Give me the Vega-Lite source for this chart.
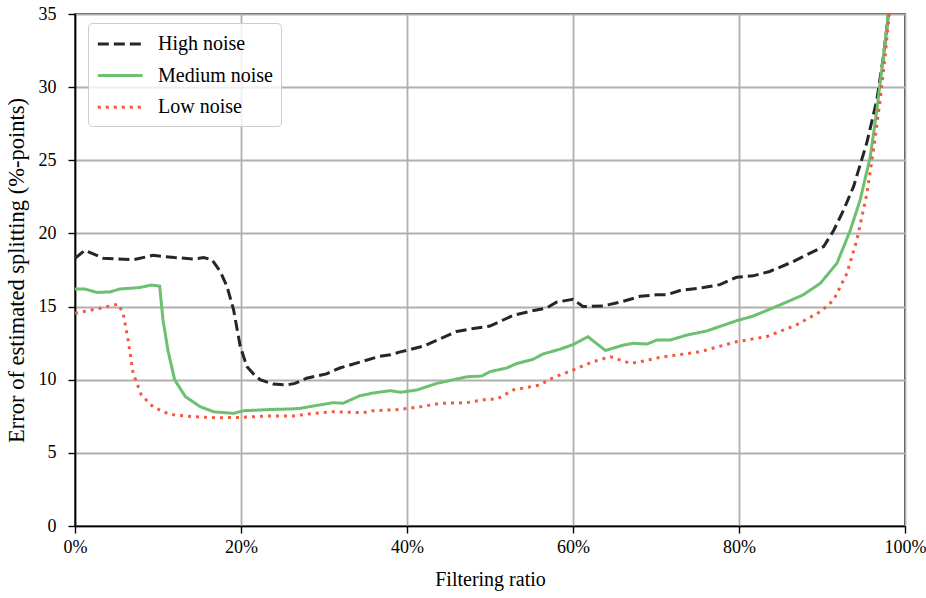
{
  "$schema": "https://vega.github.io/schema/vega-lite/v6.json",
  "autosize": {"type": "none"},
  "width": 830,
  "height": 512,
  "padding": {"left": 75, "top": 14, "right": 21, "bottom": 72},
  "background": "white",
  "config": {
    "font": "Liberation Serif",
    "style": {
      "guide-label": {"font": "Liberation Serif", "fill": "black"},
      "guide-title": {"font": "Liberation Serif", "fill": "black"}
    },
    "view": {"stroke": "black", "strokeWidth": 1.6},
    "axis": {
      "labelFont": "Liberation Serif",
      "titleFont": "Liberation Serif",
      "labelFontSize": 18,
      "titleFontSize": 20,
      "titleFontWeight": "normal",
      "labelColor": "black",
      "titleColor": "black",
      "domainColor": "black",
      "domainWidth": 1.6,
      "tickColor": "black",
      "tickWidth": 1.4,
      "tickSize": 7,
      "gridColor": "#b0b0b0",
      "gridWidth": 1.8,
      "gridOpacity": 1
    },
    "legend": {
      "labelFont": "Liberation Serif",
      "labelFontSize": 20,
      "labelColor": "black"
    }
  },
  "data": {
    "values": [
      {"ratio": 0.0, "error": 18.3, "noise": "High noise"},
      {"ratio": 0.012, "error": 18.85, "noise": "High noise"},
      {"ratio": 0.034, "error": 18.3, "noise": "High noise"},
      {"ratio": 0.05, "error": 18.25, "noise": "High noise"},
      {"ratio": 0.07, "error": 18.2, "noise": "High noise"},
      {"ratio": 0.094, "error": 18.5, "noise": "High noise"},
      {"ratio": 0.12, "error": 18.35, "noise": "High noise"},
      {"ratio": 0.143, "error": 18.25, "noise": "High noise"},
      {"ratio": 0.155, "error": 18.35, "noise": "High noise"},
      {"ratio": 0.165, "error": 18.2, "noise": "High noise"},
      {"ratio": 0.175, "error": 17.4, "noise": "High noise"},
      {"ratio": 0.183, "error": 16.4, "noise": "High noise"},
      {"ratio": 0.191, "error": 14.8, "noise": "High noise"},
      {"ratio": 0.199, "error": 12.3, "noise": "High noise"},
      {"ratio": 0.207, "error": 10.9, "noise": "High noise"},
      {"ratio": 0.215, "error": 10.4, "noise": "High noise"},
      {"ratio": 0.223, "error": 10.0, "noise": "High noise"},
      {"ratio": 0.239, "error": 9.7, "noise": "High noise"},
      {"ratio": 0.255, "error": 9.64, "noise": "High noise"},
      {"ratio": 0.265, "error": 9.75, "noise": "High noise"},
      {"ratio": 0.279, "error": 10.1, "noise": "High noise"},
      {"ratio": 0.303, "error": 10.4, "noise": "High noise"},
      {"ratio": 0.319, "error": 10.8, "noise": "High noise"},
      {"ratio": 0.343, "error": 11.2, "noise": "High noise"},
      {"ratio": 0.367, "error": 11.6, "noise": "High noise"},
      {"ratio": 0.38, "error": 11.7, "noise": "High noise"},
      {"ratio": 0.392, "error": 11.9, "noise": "High noise"},
      {"ratio": 0.42, "error": 12.3, "noise": "High noise"},
      {"ratio": 0.44, "error": 12.8, "noise": "High noise"},
      {"ratio": 0.46, "error": 13.3, "noise": "High noise"},
      {"ratio": 0.48, "error": 13.5, "noise": "High noise"},
      {"ratio": 0.5, "error": 13.67, "noise": "High noise"},
      {"ratio": 0.528, "error": 14.4, "noise": "High noise"},
      {"ratio": 0.55, "error": 14.7, "noise": "High noise"},
      {"ratio": 0.568, "error": 14.9, "noise": "High noise"},
      {"ratio": 0.58, "error": 15.3, "noise": "High noise"},
      {"ratio": 0.6, "error": 15.5, "noise": "High noise"},
      {"ratio": 0.612, "error": 15.0, "noise": "High noise"},
      {"ratio": 0.636, "error": 15.04, "noise": "High noise"},
      {"ratio": 0.66, "error": 15.35, "noise": "High noise"},
      {"ratio": 0.681, "error": 15.7, "noise": "High noise"},
      {"ratio": 0.7, "error": 15.8, "noise": "High noise"},
      {"ratio": 0.713, "error": 15.8, "noise": "High noise"},
      {"ratio": 0.729, "error": 16.1, "noise": "High noise"},
      {"ratio": 0.757, "error": 16.3, "noise": "High noise"},
      {"ratio": 0.777, "error": 16.5, "noise": "High noise"},
      {"ratio": 0.797, "error": 17.0, "noise": "High noise"},
      {"ratio": 0.817, "error": 17.1, "noise": "High noise"},
      {"ratio": 0.837, "error": 17.4, "noise": "High noise"},
      {"ratio": 0.865, "error": 18.07, "noise": "High noise"},
      {"ratio": 0.88, "error": 18.5, "noise": "High noise"},
      {"ratio": 0.902, "error": 19.1, "noise": "High noise"},
      {"ratio": 0.914, "error": 20.2, "noise": "High noise"},
      {"ratio": 0.926, "error": 21.6, "noise": "High noise"},
      {"ratio": 0.938, "error": 23.2, "noise": "High noise"},
      {"ratio": 0.954, "error": 26.2, "noise": "High noise"},
      {"ratio": 0.966, "error": 29.1, "noise": "High noise"},
      {"ratio": 0.974, "error": 32.1, "noise": "High noise"},
      {"ratio": 0.98, "error": 35.0, "noise": "High noise"},
      {"ratio": 0.99, "error": 40.0, "noise": "High noise"},

      {"ratio": 0.0, "error": 16.2, "noise": "Medium noise"},
      {"ratio": 0.012, "error": 16.2, "noise": "Medium noise"},
      {"ratio": 0.026, "error": 15.97, "noise": "Medium noise"},
      {"ratio": 0.042, "error": 16.0, "noise": "Medium noise"},
      {"ratio": 0.054, "error": 16.2, "noise": "Medium noise"},
      {"ratio": 0.078, "error": 16.3, "noise": "Medium noise"},
      {"ratio": 0.092, "error": 16.47, "noise": "Medium noise"},
      {"ratio": 0.102, "error": 16.4, "noise": "Medium noise"},
      {"ratio": 0.106, "error": 14.1, "noise": "Medium noise"},
      {"ratio": 0.112, "error": 12.0, "noise": "Medium noise"},
      {"ratio": 0.12, "error": 10.0, "noise": "Medium noise"},
      {"ratio": 0.133, "error": 8.84, "noise": "Medium noise"},
      {"ratio": 0.151, "error": 8.15, "noise": "Medium noise"},
      {"ratio": 0.167, "error": 7.81, "noise": "Medium noise"},
      {"ratio": 0.191, "error": 7.7, "noise": "Medium noise"},
      {"ratio": 0.203, "error": 7.88, "noise": "Medium noise"},
      {"ratio": 0.239, "error": 7.97, "noise": "Medium noise"},
      {"ratio": 0.26, "error": 8.0, "noise": "Medium noise"},
      {"ratio": 0.271, "error": 8.04, "noise": "Medium noise"},
      {"ratio": 0.287, "error": 8.2, "noise": "Medium noise"},
      {"ratio": 0.311, "error": 8.43, "noise": "Medium noise"},
      {"ratio": 0.323, "error": 8.39, "noise": "Medium noise"},
      {"ratio": 0.343, "error": 8.9, "noise": "Medium noise"},
      {"ratio": 0.36, "error": 9.1, "noise": "Medium noise"},
      {"ratio": 0.38, "error": 9.25, "noise": "Medium noise"},
      {"ratio": 0.392, "error": 9.14, "noise": "Medium noise"},
      {"ratio": 0.412, "error": 9.3, "noise": "Medium noise"},
      {"ratio": 0.436, "error": 9.75, "noise": "Medium noise"},
      {"ratio": 0.472, "error": 10.2, "noise": "Medium noise"},
      {"ratio": 0.49, "error": 10.25, "noise": "Medium noise"},
      {"ratio": 0.5, "error": 10.55, "noise": "Medium noise"},
      {"ratio": 0.52, "error": 10.8, "noise": "Medium noise"},
      {"ratio": 0.532, "error": 11.1, "noise": "Medium noise"},
      {"ratio": 0.552, "error": 11.4, "noise": "Medium noise"},
      {"ratio": 0.564, "error": 11.76, "noise": "Medium noise"},
      {"ratio": 0.584, "error": 12.08, "noise": "Medium noise"},
      {"ratio": 0.6, "error": 12.4, "noise": "Medium noise"},
      {"ratio": 0.618, "error": 12.94, "noise": "Medium noise"},
      {"ratio": 0.639, "error": 12.0, "noise": "Medium noise"},
      {"ratio": 0.661, "error": 12.37, "noise": "Medium noise"},
      {"ratio": 0.673, "error": 12.49, "noise": "Medium noise"},
      {"ratio": 0.689, "error": 12.44, "noise": "Medium noise"},
      {"ratio": 0.701, "error": 12.71, "noise": "Medium noise"},
      {"ratio": 0.717, "error": 12.71, "noise": "Medium noise"},
      {"ratio": 0.737, "error": 13.05, "noise": "Medium noise"},
      {"ratio": 0.761, "error": 13.33, "noise": "Medium noise"},
      {"ratio": 0.797, "error": 14.03, "noise": "Medium noise"},
      {"ratio": 0.817, "error": 14.35, "noise": "Medium noise"},
      {"ratio": 0.849, "error": 15.1, "noise": "Medium noise"},
      {"ratio": 0.877, "error": 15.79, "noise": "Medium noise"},
      {"ratio": 0.898, "error": 16.59, "noise": "Medium noise"},
      {"ratio": 0.918, "error": 17.96, "noise": "Medium noise"},
      {"ratio": 0.934, "error": 20.2, "noise": "Medium noise"},
      {"ratio": 0.946, "error": 22.3, "noise": "Medium noise"},
      {"ratio": 0.958, "error": 25.2, "noise": "Medium noise"},
      {"ratio": 0.966, "error": 28.4, "noise": "Medium noise"},
      {"ratio": 0.974, "error": 32.1, "noise": "Medium noise"},
      {"ratio": 0.98, "error": 35.0, "noise": "Medium noise"},
      {"ratio": 0.99, "error": 40.0, "noise": "Medium noise"},

      {"ratio": 0.0, "error": 14.54, "noise": "Low noise"},
      {"ratio": 0.03, "error": 14.88, "noise": "Low noise"},
      {"ratio": 0.052, "error": 15.17, "noise": "Low noise"},
      {"ratio": 0.058, "error": 14.54, "noise": "Low noise"},
      {"ratio": 0.064, "error": 12.7, "noise": "Low noise"},
      {"ratio": 0.07, "error": 10.44, "noise": "Low noise"},
      {"ratio": 0.08, "error": 8.95, "noise": "Low noise"},
      {"ratio": 0.094, "error": 8.15, "noise": "Low noise"},
      {"ratio": 0.114, "error": 7.63, "noise": "Low noise"},
      {"ratio": 0.143, "error": 7.47, "noise": "Low noise"},
      {"ratio": 0.171, "error": 7.4, "noise": "Low noise"},
      {"ratio": 0.203, "error": 7.43, "noise": "Low noise"},
      {"ratio": 0.231, "error": 7.52, "noise": "Low noise"},
      {"ratio": 0.263, "error": 7.52, "noise": "Low noise"},
      {"ratio": 0.287, "error": 7.7, "noise": "Low noise"},
      {"ratio": 0.311, "error": 7.81, "noise": "Low noise"},
      {"ratio": 0.335, "error": 7.77, "noise": "Low noise"},
      {"ratio": 0.347, "error": 7.74, "noise": "Low noise"},
      {"ratio": 0.359, "error": 7.88, "noise": "Low noise"},
      {"ratio": 0.392, "error": 7.97, "noise": "Low noise"},
      {"ratio": 0.416, "error": 8.15, "noise": "Low noise"},
      {"ratio": 0.44, "error": 8.38, "noise": "Low noise"},
      {"ratio": 0.472, "error": 8.43, "noise": "Low noise"},
      {"ratio": 0.496, "error": 8.66, "noise": "Low noise"},
      {"ratio": 0.508, "error": 8.66, "noise": "Low noise"},
      {"ratio": 0.528, "error": 9.3, "noise": "Low noise"},
      {"ratio": 0.56, "error": 9.64, "noise": "Low noise"},
      {"ratio": 0.576, "error": 10.14, "noise": "Low noise"},
      {"ratio": 0.6, "error": 10.66, "noise": "Low noise"},
      {"ratio": 0.624, "error": 11.23, "noise": "Low noise"},
      {"ratio": 0.645, "error": 11.57, "noise": "Low noise"},
      {"ratio": 0.669, "error": 11.12, "noise": "Low noise"},
      {"ratio": 0.681, "error": 11.23, "noise": "Low noise"},
      {"ratio": 0.705, "error": 11.53, "noise": "Low noise"},
      {"ratio": 0.753, "error": 11.91, "noise": "Low noise"},
      {"ratio": 0.797, "error": 12.6, "noise": "Low noise"},
      {"ratio": 0.833, "error": 12.94, "noise": "Low noise"},
      {"ratio": 0.869, "error": 13.74, "noise": "Low noise"},
      {"ratio": 0.898, "error": 14.65, "noise": "Low noise"},
      {"ratio": 0.914, "error": 15.45, "noise": "Low noise"},
      {"ratio": 0.93, "error": 17.27, "noise": "Low noise"},
      {"ratio": 0.942, "error": 19.55, "noise": "Low noise"},
      {"ratio": 0.954, "error": 22.7, "noise": "Low noise"},
      {"ratio": 0.962, "error": 25.7, "noise": "Low noise"},
      {"ratio": 0.97, "error": 29.1, "noise": "Low noise"},
      {"ratio": 0.976, "error": 32.1, "noise": "Low noise"},
      {"ratio": 0.981, "error": 35.0, "noise": "Low noise"},
      {"ratio": 0.99, "error": 42.0, "noise": "Low noise"}
    ]
  },
  "mark": {"type": "line", "strokeWidth": 3, "clip": true},
  "encoding": {
    "x": {
      "field": "ratio",
      "type": "quantitative",
      "scale": {"domain": [0, 1], "nice": false, "zero": false},
      "axis": {"values": [0, 0.2, 0.4, 0.6, 0.8, 1], "format": ".0%", "title": "Filtering ratio", "labelFlush": false, "labelFont": "Liberation Serif", "titleFont": "Liberation Serif", "labelPadding": 5, "titlePadding": 13}
    },
    "y": {
      "field": "error",
      "type": "quantitative",
      "scale": {"domain": [0, 35], "nice": false},
      "axis": {"values": [0, 5, 10, 15, 20, 25, 30, 35], "title": "Error of estimated splitting (%-points)", "titleFontSize": 22.5, "labelFlush": false, "labelFont": "Liberation Serif", "titleFont": "Liberation Serif", "labelPadding": 12, "titlePadding": 10}
    },
    "color": {
      "field": "noise",
      "type": "nominal",
      "sort": ["High noise", "Medium noise", "Low noise"],
      "scale": {"domain": ["High noise", "Medium noise", "Low noise"], "range": ["#262626", "#6cc070", "#f5593f"]},
      "legend": {
        "title": null,
        "orient": "none",
        "legendX": 13,
        "legendY": 9,
        "symbolType": "M-1,0H3",
        "symbolSize": 500,
        "symbolStrokeWidth": 3,
        "labelFont": "Liberation Serif",
        "labelOffset": 36,
        "rowPadding": 8.6,
        "padding": 8,
        "fillColor": "rgba(255,255,255,0.8)",
        "strokeColor": "#cccccc",
        "cornerRadius": 4
      }
    },
    "strokeDash": {
      "field": "noise",
      "type": "nominal",
      "sort": ["High noise", "Medium noise", "Low noise"],
      "scale": {"domain": ["High noise", "Medium noise", "Low noise"], "range": [[11, 5], [1, 0], [3, 5]]},
      "legend": {
        "title": null,
        "orient": "none",
        "legendX": 13,
        "legendY": 9,
        "symbolType": "M-1,0H3",
        "symbolSize": 500,
        "symbolStrokeWidth": 3,
        "labelFont": "Liberation Serif",
        "labelOffset": 36,
        "rowPadding": 8.6,
        "padding": 8,
        "fillColor": "rgba(255,255,255,0.8)",
        "strokeColor": "#cccccc",
        "cornerRadius": 4
      }
    }
  }
}
